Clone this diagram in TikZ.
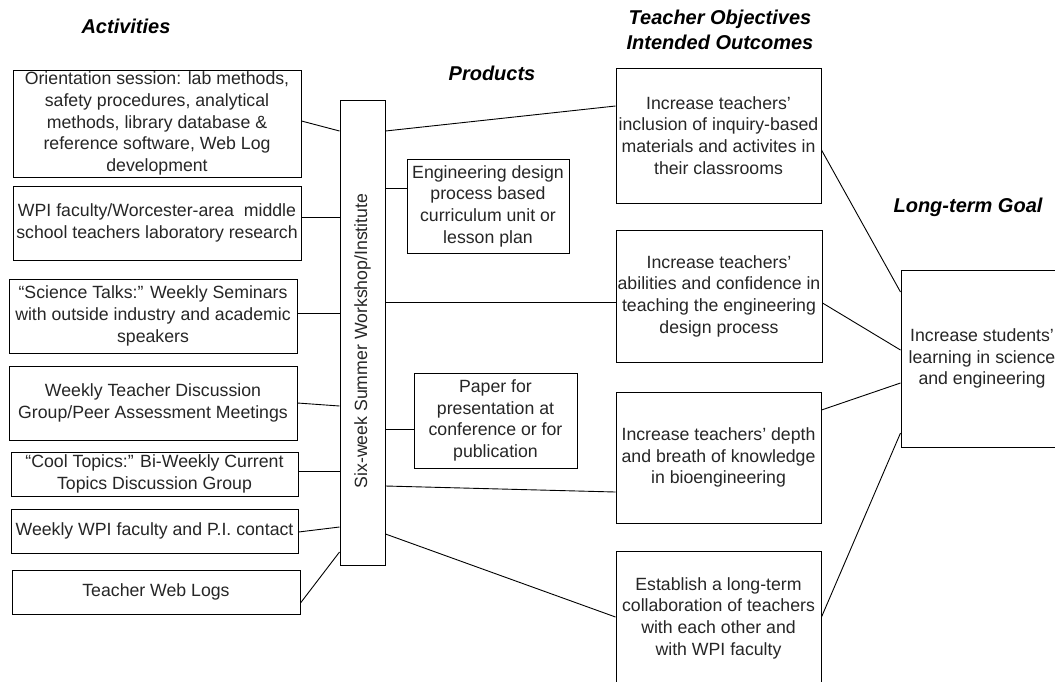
\documentclass[tikz,border=0pt]{standalone}
\usepackage{fontspec}
\usepackage{graphicx}
\setmainfont{Liberation Sans}
\newcommand{\bodyfont}{\fontsize{17.7}{21.7}\selectfont}
\newcommand{\headfont}{\fontsize{20}{25}\selectfont\bfseries\itshape}
\begin{document}
\begin{tikzpicture}[x=1pt,y=-1pt,
  box/.style={draw, line width=1pt, inner sep=0pt, align=center, font=\bodyfont, text=black!85},
  head/.style={inner sep=0pt, align=center, font=\headfont},
  conn/.style={line width=0.9pt}]
\useasboundingbox (0,0) rectangle (1055,681);
\clip (0,0) rectangle (1055,681);
\fill[white] (0,0) rectangle (1055,681);

% headings
\node[head] (hAct) at (126,26) {Activities};
\node[head] (hProd) at (492,73) {Products};
\node[head] (hObj) at (720,30) {Teacher Objectives\\Intended Outcomes};
\node[head] (hGoal) at (968,207) {Long-term Goal};

% activities
\node[box, minimum width=288, minimum height=107] (A1) at (157,123.5)
  {Orientation session: lab methods,\\ safety procedures, analytical\\ methods, library database \&\\ reference software, Web Log\\ development};
\node[box, minimum width=288, minimum height=74] (A2) at (157,223)
  {WPI faculty/Worcester-area\ \ middle\\ school teachers laboratory research};
\node[box, minimum width=288, minimum height=74] (A3) at (153,316)
  {“Science Talks:” Weekly Seminars\\ with outside industry and academic\\ speakers};
\node[box, minimum width=288, minimum height=74] (A4) at (153,403)
  {Weekly Teacher Discussion\\ Group/Peer Assessment Meetings};
\node[box, minimum width=287, minimum height=44] (A5) at (154.5,474)
  {“Cool Topics:” Bi-Weekly Current\\ Topics Discussion Group};
\node[box, minimum width=287, minimum height=44] (A6) at (154.5,531)
  {Weekly WPI faculty and P.I. contact};
\node[box, minimum width=288, minimum height=44] (A7) at (156,592)
  {Teacher Web Logs};

% workshop bar
\node[box, minimum width=45, minimum height=465] (bar) at (362.5,332.5)
  {\rotatebox{90}{Six-week Summer Workshop/Institute\hspace*{17pt}}};

% products
\node[box, minimum width=162, minimum height=94] (P1) at (488,206)
  {Engineering design\\ process based\\ curriculum unit or\\ lesson plan};
\node[box, minimum width=163, minimum height=95] (P2) at (495.5,420.5)
  {Paper for\\ presentation at\\ conference or for\\ publication};

% objectives
\node[box, minimum width=205, minimum height=135] (O1) at (718.5,135.5)
  {Increase teachers’\\ inclusion of inquiry-based\\ materials and activites in\\ their classrooms};
\node[box, minimum width=206, minimum height=132] (O2) at (719,296)
  {Increase teachers’\\ abilities and confidence in\\ teaching the engineering\\ design process};
\node[box, minimum width=205, minimum height=131] (O3) at (718.5,457.5)
  {Increase teachers’ depth\\ and breath of knowledge\\ in bioengineering};
\node[box, minimum width=205, minimum height=134] (O4) at (718.5,618)
  {Establish a long-term\\ collaboration of teachers\\ with each other and\\ with WPI faculty};

% goal
\node[box, minimum width=162, minimum height=177] (G) at (982,358.5)
  {Increase students’\\ learning in science\\ and engineering};

% connectors activities -> bar
\draw[conn] (A1.east |- 0,121) -- (bar.west |- 0,131);
\draw[conn] (A2.east |- 0,217) -- (bar.west |- 0,217);
\draw[conn] (A3.east |- 0,313) -- (bar.west |- 0,313);
\draw[conn] (A4.east |- 0,403) -- (bar.west |- 0,406);
\draw[conn] (A5.east |- 0,471) -- (bar.west |- 0,471);
\draw[conn] (A6.east |- 0,532) -- (bar.west |- 0,527);
\draw[conn] (A7.east |- 0,603) -- (bar.west |- 0,552);

% bar -> products
\draw[conn] (bar.east |- 0,188) -- (P1.west |- 0,188);
\draw[conn] (bar.east |- 0,429) -- (P2.west |- 0,429);

% bar -> objectives
\draw[conn] (bar.east |- 0,131) -- (O1.west |- 0,106);
\draw[conn] (bar.east |- 0,302) -- (O2.west |- 0,302);
\draw[conn] (bar.east |- 0,486) -- (O3.west |- 0,492);
\draw[conn] (bar.east |- 0,534) -- (O4.west |- 0,617);

% objectives -> goal
\draw[conn] (O1.east |- 0,150) -- (G.west |- 0,292);
\draw[conn] (O2.east |- 0,303) -- (G.west |- 0,350);
\draw[conn] (O3.east |- 0,410) -- (G.west |- 0,383);
\draw[conn] (O4.east |- 0,617) -- (G.west |- 0,433);
\end{tikzpicture}
\end{document}
